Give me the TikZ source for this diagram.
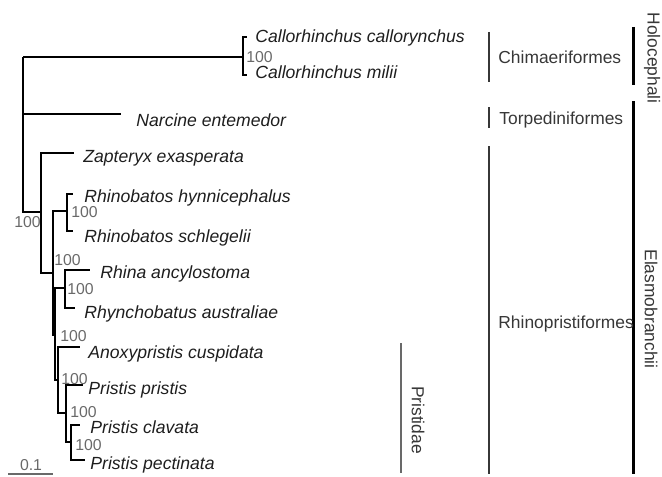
\documentclass[tikz,border=0pt]{standalone}
\usepackage{fontspec}
\setmainfont{Liberation Sans}
\usetikzlibrary{positioning}

\definecolor{taxdark}{RGB}{30,30,30}
\definecolor{cladegray}{RGB}{55,55,55}
\definecolor{bootgray}{RGB}{105,105,105}

\tikzset{
  branch/.style={line width=0.75pt, black},
  taxon/.style={anchor=base west, inner sep=0pt, text=taxdark,
    font=\fontsize{8.8}{10}\selectfont\itshape},
  boot/.style={anchor=west, inner sep=0pt, text=bootgray,
    font=\fontsize{7.9}{9}\selectfont},
  clade/.style={anchor=base west, inner sep=0pt, text=cladegray,
    font=\fontsize{8.7}{10}\selectfont},
  cladeup/.style={rotate=-90, inner sep=0pt, text=cladegray,
    font=\fontsize{8.7}{10}\selectfont},
  cladebar/.style={line width=0.75pt, cladegray},
  classbar/.style={line width=1.5pt, black}
}

\begin{document}
\begin{tikzpicture}[x=0.5pt,y=0.5pt,yscale=-1,xscale=1]

\useasboundingbox (0,0) rectangle (662,476);

% --- 1. internal nodes and tip ends of the tree ---
\coordinate (root) at (23,57);
\coordinate (callo) at (243,57);
\coordinate (nrp) at (41,212);
\coordinate (na) at (53,273);
\coordinate (rb) at (67,211);
\coordinate (nb) at (55,335);
\coordinate (rh) at (65,288);
\coordinate (pr) at (58,380);
\coordinate (ps) at (66,413);
\coordinate (cp) at (71,442);

\coordinate (tcalc) at (247,37);
\coordinate (tcalm) at (247,75);
\coordinate (tnar) at (121,114);
\coordinate (tzap) at (74,153);
\coordinate (trhy) at (73,194);
\coordinate (trsc) at (73,231);
\coordinate (trha) at (90,270);
\coordinate (trau) at (75,308);
\coordinate (tano) at (80,347);
\coordinate (tppr) at (83,385);
\coordinate (tpcl) at (80,425);
\coordinate (tppe) at (85,460);

% --- 2. branches, drawn as elbows from parent to child ---
\draw [branch] (root) |- (callo);
\draw [branch] (root) |- (tnar);
\draw [branch] (root) |- (nrp);
\draw [branch] (callo) |- (tcalc);
\draw [branch] (callo) |- (tcalm);
\draw [branch] (nrp) |- (tzap);
\draw [branch] (nrp) |- (na);
\draw [branch] (na) |- (rb);
\draw [branch] (na) |- (nb);
\draw [branch] (rb) |- (trhy);
\draw [branch] (rb) |- (trsc);
\draw [branch] (nb) |- (rh);
\draw [branch] (nb) |- (pr);
\draw [branch] (rh) |- (trha);
\draw [branch] (rh) |- (trau);
\draw [branch] (pr) |- (tano);
\draw [branch] (pr) |- (ps);
\draw [branch] (ps) |- (tppr);
\draw [branch] (ps) |- (cp);
\draw [branch] (cp) |- (tpcl);
\draw [branch] (cp) |- (tppe);

% --- 3. species names ---
\node [taxon] (calc) at (255,43) {Callorhinchus callorynchus};
\node [taxon] (calm) at (255,79) {Callorhinchus milii};
\node [taxon] (nar) at (136,126) {Narcine entemedor};
\node [taxon] (zap) at (83,162) {Zapteryx exasperata};
\node [taxon] (rhy) at (84,202) {Rhinobatos hynnicephalus};
\node [taxon] (rsc) at (84,242) {Rhinobatos schlegelii};
\node [taxon] (rha) at (100,278) {Rhina ancylostoma};
\node [taxon] (rau) at (84,318) {Rhynchobatus australiae};
\node [taxon] (ano) at (88,358) {Anoxypristis cuspidata};
\node [taxon] (ppr) at (88,394) {Pristis pristis};
\node [taxon] (pcl) at (90,433) {Pristis clavata};
\node [taxon] (ppe) at (90,469) {Pristis pectinata};

% --- 4. bootstrap support ---
\node [boot] (bcallo) at (246,57) {100};
\node [boot] (bnrp) at (14,222) {100};
\node [boot] (brb) at (71,212) {100};
\node [boot] (bna) at (54,260) {100};
\node [boot] (brh) at (67,289) {100};
\node [boot] (bnb) at (60,336) {100};
\node [boot] (bpr) at (61,379) {100};
\node [boot] (bps) at (70,412) {100};
\node [boot] (bcp) at (75,445) {100};

% --- 5. order, family and class bars ---
\draw [cladebar] (489,32) -- (489,82);
\draw [cladebar] (489,107) -- (489,128);
\draw [cladebar] (489,146) -- (489,474);
\draw [cladebar, bootgray] (401,343) -- (401,473);
\draw [classbar] (633,27) -- (633,85);
\draw [classbar] (633,101) -- (633,474);

\node [clade] (chim) at (498,63) {Chimaeriformes};
\node [clade] (torp) at (499,124) {Torpediniformes};
\node [clade] (rhin) at (498,328) {Rhinopristiformes};
\node [cladeup] (prist) at (418,420) {Pristidae};
\node [cladeup] (holo) at (652,58) {Holocephali};
\node [cladeup] (elas) at (651,309) {Elasmobranchii};

% --- 6. scale bar ---
\coordinate (sbl) at (8,474);
\coordinate (sbr) at (53,474);
\draw [branch, bootgray] (sbl) -- (sbr);
\node [boot, anchor=center] (sblab) at (31,465) {0.1};

\end{tikzpicture}
\end{document}
